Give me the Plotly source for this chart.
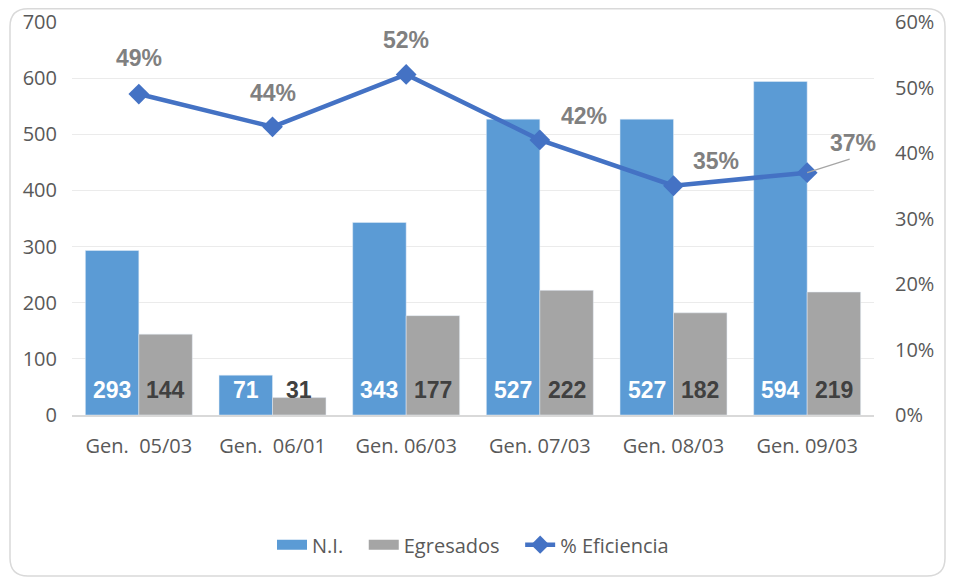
import plotly.graph_objects as go

categories = ["Gen.\u00a0 05/03", "Gen.\u00a0 06/01", "Gen. 06/03", "Gen. 07/03", "Gen. 08/03", "Gen. 09/03"]
ni = [293, 71, 343, 527, 527, 594]
egresados = [144, 31, 177, 222, 182, 219]
eficiencia = [0.49, 0.44, 0.52, 0.42, 0.35, 0.37]
eff_labels = ["49%", "44%", "52%", "42%", "35%", "37%"]

# page has an 8px body margin; figure coordinates = screen - 8
W, H = 946, 570
L, R, T, B = 64, 80, 14, 163
pw, ph = W - L - R, H - T - B
BLUE, GRAY, LINE = "#5B9BD5", "#A5A5A5", "#4472C4"

fig = go.Figure()
fig.add_trace(go.Bar(x=categories, y=ni, name="N.I.", marker_color=BLUE, showlegend=False))
fig.add_trace(go.Bar(x=categories, y=egresados, name="Egresados", marker_color=GRAY, showlegend=False))
fig.add_trace(go.Scatter(
    x=categories, y=eficiencia, name="% Eficiencia", yaxis="y2",
    mode="lines+markers", line=dict(color=LINE, width=4.5),
    marker=dict(symbol="diamond", size=16, color=LINE), showlegend=False,
))
# legend entries
fig.add_trace(go.Scatter(x=[None], y=[None], mode="lines", name="N.I.\u00a0\u00a0\u00a0",
                         line=dict(color=BLUE, width=14)))
fig.add_trace(go.Scatter(x=[None], y=[None], mode="lines", name="Egresados\u00a0\u00a0\u00a0",
                         line=dict(color=GRAY, width=14)))
fig.add_trace(go.Scatter(x=[None], y=[None], mode="lines+markers", name="% Eficiencia",
                         line=dict(color=LINE, width=4.5),
                         marker=dict(symbol="diamond", size=14, color=LINE)))

# bar value labels near the base
for i, (a, b) in enumerate(zip(ni, egresados)):
    fig.add_annotation(x=i - 0.2, y=0, xref="x", yref="y", text=str(a), showarrow=False,
                       yshift=25, font=dict(family="Liberation Sans", size=23, color="white", weight="bold"))
    fig.add_annotation(x=i + 0.2, y=0, xref="x", yref="y", text=str(b), showarrow=False,
                       yshift=25, font=dict(family="Liberation Sans", size=23, color="#404040", weight="bold"))

offsets = [(0, -36), (0, -34), (0, -34), (44, -24), (42, -25), (46, -30)]
for c, v, lab, (ax, ay) in zip(categories, eficiencia, eff_labels, offsets):
    fig.add_annotation(x=c, y=v, xref="x", yref="y2", text=lab, showarrow=False,
                       xshift=ax, yshift=-ay,
                       font=dict(family="Liberation Sans", size=23, color="#808080", weight="bold"))
fig.add_annotation(x=categories[-1], y=eficiencia[-1], xref="x", yref="y2", text="",
                   showarrow=True, arrowhead=0, arrowcolor="#A6A6A6", arrowwidth=1.2,
                   ax=44, ay=-14, standoff=0)

# rounded border (figure px -> paper)
bx0, bx1, by_top, by_bot = 2, 937, 0.8, 568
x0 = (bx0 - L) / pw; x1 = (bx1 - L) / pw
y0 = (H - by_bot - B) / ph; y1 = (H - by_top - B) / ph
rx, ry = 18 / pw, 18 / ph
path = (f"M {x0+rx},{y1} L {x1-rx},{y1} Q {x1},{y1} {x1},{y1-ry} "
        f"L {x1},{y0+ry} Q {x1},{y0} {x1-rx},{y0} L {x0+rx},{y0} "
        f"Q {x0},{y0} {x0},{y0+ry} L {x0},{y1-ry} Q {x0},{y1} {x0+rx},{y1} Z")
fig.add_shape(type="path", path=path, xref="paper", yref="paper",
              line=dict(color="#D9D9D9", width=1.5), layer="below")

tf = dict(family="Open Sans", size=20, color="#595959")
fig.update_layout(
    width=W, height=H, margin=dict(l=L, r=R, t=T, b=B, autoexpand=False),
    paper_bgcolor="white", plot_bgcolor="white",
    barmode="group", bargap=0.2, bargroupgap=0,
    font=dict(family="Open Sans", size=19, color="#595959"),
    showlegend=True,
    legend=dict(orientation="h", x=0.5, xanchor="center", y=-0.33, yanchor="middle",
                font=dict(family="Open Sans", size=20, color="#595959"), traceorder="normal"),
    xaxis=dict(showgrid=False, showline=True, linecolor="#D9D9D9", linewidth=1.5,
               ticks="", ticklabelstandoff=12, tickfont=tf, automargin=False,
               range=[-0.5, 5.5]),
    yaxis=dict(range=[0, 700], dtick=100, showgrid=True, gridcolor="#EBEBEB",
               zeroline=False, ticks="", ticklabelstandoff=14, tickfont=tf, automargin=False,
               ticklabeloverflow="allow"),
    yaxis2=dict(range=[0, 0.6], dtick=0.1, tickformat=".0%", overlaying="y", side="right",
                showgrid=False, zeroline=False, ticks="", ticklabelstandoff=20,
                tickfont=tf, automargin=False, ticklabeloverflow="allow"),
)

fig.write_html("out.html")
